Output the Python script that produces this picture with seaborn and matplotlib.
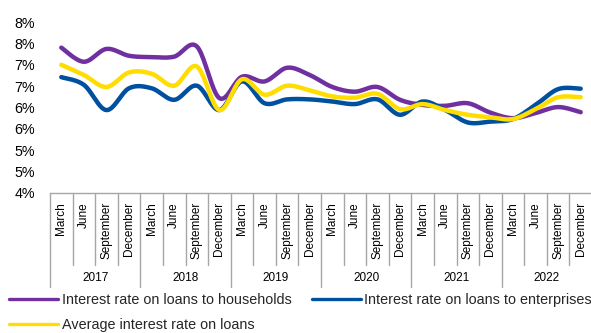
import numpy as np
import pandas as pd
import matplotlib
matplotlib.use("Agg")
import matplotlib.pyplot as plt
import matplotlib.transforms as mtransforms
from matplotlib.lines import Line2D
import seaborn as sns

# ---- data ----
years = ["2017", "2018", "2019", "2020", "2021", "2022"]
months = ["March", "June", "September", "December"]
households = [7.40, 7.07, 7.37, 7.21, 7.18, 7.19, 7.43, 6.22, 6.72, 6.61, 6.93, 6.76,
              6.48, 6.37, 6.48, 6.18, 6.06, 6.04, 6.10, 5.88, 5.75, 5.87, 6.01, 5.89]
enterprises = [6.71, 6.53, 5.94, 6.45, 6.45, 6.18, 6.51, 5.94, 6.61, 6.10, 6.19, 6.19,
               6.14, 6.08, 6.19, 5.83, 6.14, 5.94, 5.65, 5.67, 5.73, 6.06, 6.43, 6.44]
average = [7.00, 6.76, 6.48, 6.82, 6.79, 6.51, 6.96, 5.94, 6.66, 6.30, 6.51, 6.40,
           6.26, 6.23, 6.32, 5.96, 6.08, 5.94, 5.83, 5.77, 5.73, 5.96, 6.24, 6.24]
series_names = ["Interest rate on loans to households",
                "Interest rate on loans to enterprises",
                "Average interest rate on loans"]
colors = ["#7030A0", "#0050A0", "#FFDD00"]
ytick_values = [4.0, 4.5, 5.0, 5.5, 6.0, 6.5, 7.0, 7.5, 8.0]
ytick_labels = ["4%", "5%", "5%", "6%", "6%", "7%", "7%", "8%", "8%"]


def smooth(y, steps=20):
    """Excel-like smoothed line (cubic Bezier through the points)."""
    y = np.asarray(y, float)
    x = np.arange(len(y), dtype=float)
    n = len(y)
    xs, ys = [], []
    for i in range(n - 1):
        p0 = np.array([x[i - 1] if i > 0 else x[i], y[i - 1] if i > 0 else y[i]])
        p1 = np.array([x[i], y[i]])
        p2 = np.array([x[i + 1], y[i + 1]])
        p3 = np.array([x[i + 2] if i + 2 < n else x[i + 1], y[i + 2] if i + 2 < n else y[i + 1]])
        c1 = p1 + (p2 - p0) / 6.0
        c2 = p2 - (p3 - p1) / 6.0
        t = np.linspace(0, 1, steps, endpoint=(i == n - 2))[:, None]
        pts = (1 - t) ** 3 * p1 + 3 * (1 - t) ** 2 * t * c1 + 3 * (1 - t) * t ** 2 * c2 + t ** 3 * p2
        xs.extend(pts[:, 0]); ys.extend(pts[:, 1])
    return np.array(xs), np.array(ys)


frames = []
for name, vals in zip(series_names, [households, enterprises, average]):
    sx, sy = smooth(vals)
    frames.append(pd.DataFrame({"x": sx, "y": sy, "series": name}))
df = pd.concat(frames, ignore_index=True)

sns.set_style("white")
plt.rcParams["font.family"] = ["Liberation Sans", "DejaVu Sans"]

W, H = 591, 333
fig = plt.figure(figsize=(W / 100, H / 100), dpi=100)
ax = fig.add_axes([50 / W, 1 - 193 / H, 542 / W, 171 / H])

sns.lineplot(data=df, x="x", y="y", hue="series", hue_order=series_names,
             palette=colors, linewidth=3.2, legend=False, ax=ax, sort=False)
for l in ax.lines:
    l.set_solid_capstyle("round")

ax.set_xlim(-0.5, 23.5)
ax.set_ylim(4, 8)
ax.set_xlabel("")
ax.set_ylabel("")
ax.set_yticks(ytick_values)
ax.set_yticklabels(ytick_labels, fontsize=10.3, color="#000000")
ax.tick_params(axis="y", length=0, pad=11)
for s in ["top", "right", "left"]:
    ax.spines[s].set_visible(False)
grey = "#a6a6a6"
ax.spines["bottom"].set_color(grey)
ax.spines["bottom"].set_linewidth(1.0)
ax.set_xticks([])

# multi-level category axis
trans = mtransforms.blended_transform_factory(ax.transData, ax.transAxes)
axh = 171.0
n = len(years) * len(months)
for b in range(n + 1):
    xb = b - 0.5
    depth = 94 if b % 4 == 0 else 72
    ax.plot([xb, xb], [0, -depth / axh], transform=trans, color=grey,
            linewidth=1.0, clip_on=False)
for i in range(n):
    ax.text(i, -9 / axh, months[i % 4], transform=trans, rotation=90,
            ha="center", va="top", fontsize=8.5, color="#000000")
for k, yr in enumerate(years):
    ax.text(4 * k + 1.5, -85 / axh, yr, transform=trans, ha="center",
            va="center", fontsize=8.5, color="#000000")

handles = [Line2D([], [], color=c, linewidth=2.4, solid_capstyle="round") for c in colors]
order = [0, 2, 1]
fig.legend([handles[i] for i in order], [series_names[i] for i in order],
           loc="upper left", bbox_to_anchor=(9 / W, 1 - 293 / H), ncol=2,
           frameon=False, fontsize=10.4, handlelength=3.4, handletextpad=0.25,
           columnspacing=1.4, labelspacing=0.75, borderpad=0, borderaxespad=0)

fig.savefig("out.png", dpi=100)
